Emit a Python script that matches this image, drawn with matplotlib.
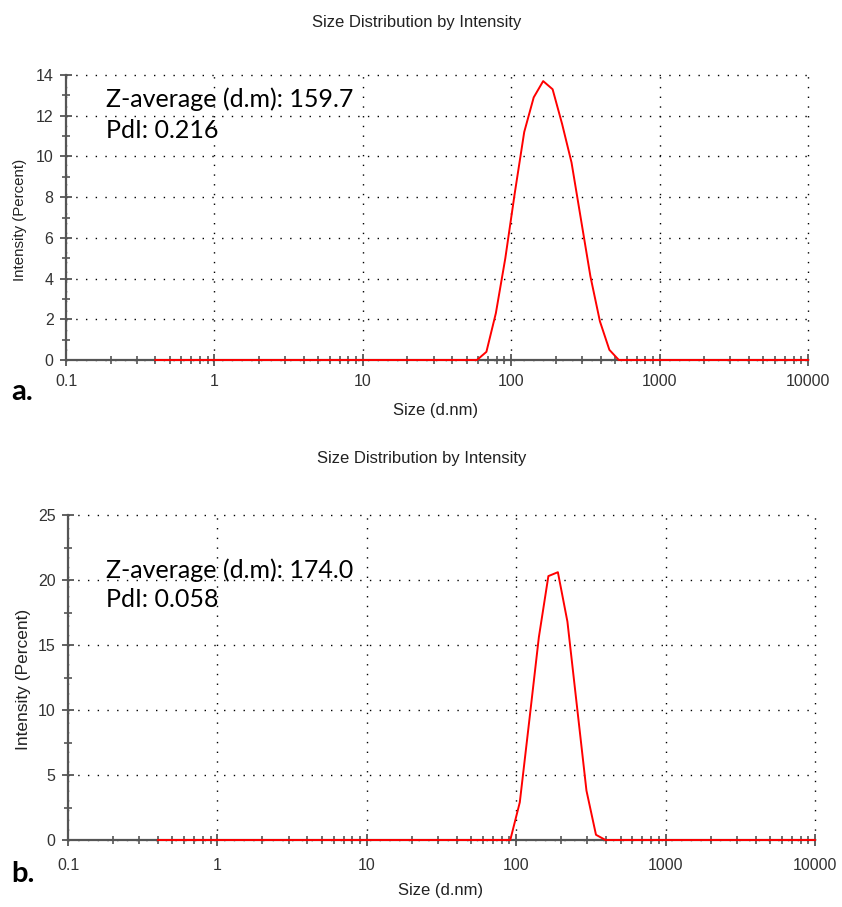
import numpy as np
import matplotlib
matplotlib.use('Agg')
import matplotlib.pyplot as plt
from matplotlib.ticker import FixedLocator, NullFormatter, LogLocator

# standard size classes (d.nm)
sizes = [0.4, 0.4632, 0.5365, 0.6213, 0.7195, 0.8332, 0.9649, 1.117, 1.294, 1.499,
         1.736, 2.010, 2.328, 2.696, 3.122, 3.615, 4.187, 4.849, 5.615, 6.503,
         7.531, 8.721, 10.10, 11.70, 13.54, 15.69, 18.17, 21.04, 24.36, 28.21,
         32.67, 37.84, 43.82, 50.75, 58.77, 68.06, 78.82, 91.28, 105.7, 122.4,
         141.8, 164.2, 190.1, 220.2, 255.0, 295.3, 342.0, 396.1, 458.7, 531.2,
         615.1, 712.4, 825.0, 955.4, 1106, 1281, 1484, 1718, 1990, 2305,
         2669, 3091, 3580, 4145, 4801, 5560, 6439, 7456, 8635, 10000]

# intensity (%) per size class
intensity_a = [0] * 35 + [0.4, 2.3, 5.0, 8.2, 11.2, 12.9, 13.7, 13.3, 11.6, 9.7,
                          6.9, 4.1, 1.9, 0.5, 0] + [0] * 20
intensity_b = [0] * 37 + [0, 2.9, 9.2, 15.6, 20.3, 20.6, 16.8, 10.3, 3.8, 0.4,
                          0] + [0] * 22

zavg = ['159.7', '174.0']
pdi = ['0.216', '0.058']
panel_labels = ['a.', 'b.']
ymaxes = [14, 25]
ymajor = [2, 5]

W, H = 842, 907
fig = plt.figure(figsize=(W / 100, H / 100), dpi=100)
fig.patch.set_facecolor('white')

# axes boxes in pixels: left, right, top, bottom
boxes = [(66, 808, 75, 360), (68, 815, 515, 840)]
title_y = [22, 458]
xlab_y = [410, 890]
ylab_x = [20, 24]
ylab_size = [10.8, 12.5]
xpad = [6, 9]
ann_base = [(107, 138), (578, 607)]
lab_base = [400, 882]

chart_font = 'Liberation Sans'
spine_col = '#555555'


def fy(px):
    return 1 - px / H


for i, data in enumerate([intensity_a, intensity_b]):
    l, r, t, b = boxes[i]
    ax = fig.add_axes([l / W, 1 - b / H, (r - l) / W, (b - t) / H])
    ax.set_xscale('log')
    ax.set_xlim(0.1, 10000)
    ax.set_ylim(0, ymaxes[i])

    ax.plot(sizes, data, color='#ff0000', lw=1.4, zorder=5, clip_on=False)

    ax.xaxis.set_major_locator(FixedLocator([0.1, 1, 10, 100, 1000, 10000]))
    ax.xaxis.set_minor_locator(LogLocator(base=10, subs=np.arange(2, 10), numticks=20))
    ax.xaxis.set_minor_formatter(NullFormatter())
    ax.set_xticklabels(['0.1', '1', '10', '100', '1000', '10000'])
    yt = np.arange(0, ymaxes[i] + 1, ymajor[i])
    ax.set_yticks(yt)
    ax.yaxis.set_minor_locator(FixedLocator(yt[:-1] + ymajor[i] / 2))

    ax.tick_params(which='major', direction='inout', length=8, width=1.3,
                   color=spine_col, labelsize=11.5, labelcolor='#333333', pad=5)
    ax.tick_params(axis='x', which='major', pad=xpad[i])
    ax.tick_params(which='minor', direction='inout', length=6, width=1.2,
                   color=spine_col)
    for lab in ax.get_xticklabels() + ax.get_yticklabels():
        lab.set_fontfamily(chart_font)

    ax.grid(True, which='major', color='black', lw=1.0, linestyle=(0, (1, 6)))
    for g in ax.get_xgridlines() + ax.get_ygridlines():
        g.set_clip_on(False)
    ax.set_axisbelow(True)

    for s in ['top', 'right']:
        ax.spines[s].set_visible(False)
    for s in ['left', 'bottom']:
        ax.spines[s].set_color(spine_col)
        ax.spines[s].set_linewidth(1.6)

    # axis titles placed in figure pixels
    fig.text(((l + r) / 2 - 1) / W, fy(xlab_y[i]), 'Size (d.nm)', ha='center',
             va='center', fontfamily=chart_font, fontsize=12, color='#222222')
    fig.text(ylab_x[i] / W, fy((t + b) / 2 + 2), 'Intensity (Percent)',
             rotation=90, ha='center', va='center', fontfamily=chart_font,
             fontsize=ylab_size[i], color='#222222')

    fig.text(((l + r) / 2 - 20) / W, fy(title_y[i]),
             'Size Distribution by Intensity', ha='center', va='center',
             fontfamily=chart_font, fontsize=12, color='#222222')

    fig.text(106 / W, fy(ann_base[i][0]), 'Z-average (d.m): ' + zavg[i],
             ha='left', va='baseline', fontfamily='Lato', fontsize=18,
             color='black')
    fig.text(106 / W, fy(ann_base[i][1]), 'PdI: ' + pdi[i],
             ha='left', va='baseline', fontfamily='Lato', fontsize=18,
             color='black')

    fig.text(11 / W, fy(lab_base[i]), panel_labels[i], ha='left',
             va='baseline', fontfamily='Lato', fontsize=21, fontweight='bold',
             color='black')

fig.savefig('out.png', dpi=100, facecolor='white')
